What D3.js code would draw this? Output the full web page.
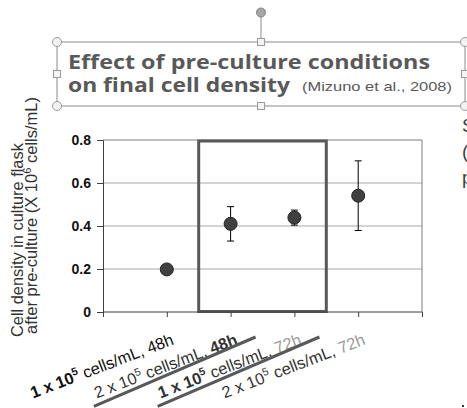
<!DOCTYPE html>
<html>
<head>
<meta charset="utf-8">
<script src="https://cdn.jsdelivr.net/npm/d3@7/dist/d3.min.js"></script>
<style>
  html, body { margin: 0; padding: 0; background: #fff; }
  svg { display: block; }
</style>
</head>
<body>
<svg id="chart" width="467" height="408"></svg>
<script>
// ---- data ----
const positions = [1, 2, 3, 4];
const densities = ["1 x 10", "2 x 10", "1 x 10", "2 x 10"];
const exponents = ["5", "5", "5", "5"];
const hours = ["48h", "48h", "72h", "72h"];
const values = [0.198, 0.41, 0.439, 0.541];
const errors = [0.012, 0.08, 0.035, 0.162];
const yTicks = [0, 0.2, 0.4, 0.6, 0.8];
const titleLine1 = "Effect of pre-culture conditions";
const titleLine2 = "on final cell density";
const citation = "(Mizuno et al., 2008)";
const yLabel1 = "Cell density in culture flask";
const yLabel2a = "after pre-culture (X 10";
const yLabel2sup = "6";
const yLabel2b = " cells/mL)";
const sideText = ["S", "(", "p"];
const underlined = [2, 3];
const highlightRange = [1.5, 3.5];

// ---- layout ----
const svg = d3.select("#chart");
const L = 103, R = 422, T = 140, B = 312;
const x = d3.scaleLinear().domain([0, 5]).range([L, R]);
const y = d3.scaleLinear().domain([0, 0.8]).range([B, T]);

// fit a text element (with tspans) to a target length by scaling its font sizes
function fitText(textSel, target) {
  const len = textSel.node().getComputedTextLength();
  const k = target / len;
  textSel.attr("font-size", +textSel.attr("font-size") * k);
  textSel.selectAll("tspan").each(function () {
    const s = d3.select(this);
    if (s.attr("font-size")) s.attr("font-size", +s.attr("font-size") * k);
    if (s.attr("dy")) s.attr("dy", +s.attr("dy") * k);
  });
}

// grid lines
svg.append("g").selectAll("line").data(yTicks.filter(d => d > 0 && d < 0.8)).join("line")
  .attr("x1", L).attr("x2", R).attr("y1", d => y(d)).attr("y2", d => y(d))
  .attr("stroke", "#a6a6a6").attr("stroke-width", 1);

// plot border top/right
svg.append("path")
  .attr("d", `M${L},${T}H${R}V${B}`)
  .attr("fill", "none").attr("stroke", "#7f7f7f").attr("stroke-width", 1);

// highlight rectangle
svg.append("rect")
  .attr("x", x(highlightRange[0])).attr("y", y(0.8) + 1)
  .attr("width", x(highlightRange[1]) - x(highlightRange[0]))
  .attr("height", y(0) - y(0.8) - 1.5)
  .attr("fill", "none").attr("stroke", "#595959").attr("stroke-width", 3);

// y axis
const yAxis = svg.append("g").attr("transform", `translate(${L},0)`)
  .call(d3.axisLeft(y).tickValues(yTicks).tickSize(6).tickPadding(6)
    .tickFormat(d => d === 0 ? "0" : d.toFixed(1)));
yAxis.select(".domain").attr("stroke", "#404040");
yAxis.selectAll(".tick line").attr("stroke", "#404040");
yAxis.selectAll("text").attr("font-family", "Liberation Sans, Arial, sans-serif")
  .attr("font-size", 14).attr("font-weight", "bold").attr("fill", "#111");

// x axis
const xAxis = svg.append("g").attr("transform", `translate(0,${B})`)
  .call(d3.axisBottom(x).tickValues([0, 1, 2, 3, 4, 5]).tickSize(5).tickFormat(""));
xAxis.select(".domain").attr("stroke", "#404040").attr("d", `M${L},0H${R}`);
xAxis.selectAll(".tick line").attr("stroke", "#404040");

// error bars
const eb = svg.append("g").attr("stroke", "#000").attr("stroke-width", 1);
positions.forEach((p, i) => {
  const cx = x(p);
  const y1 = y(values[i] + errors[i]), y2 = y(values[i] - errors[i]);
  eb.append("line").attr("x1", cx).attr("x2", cx).attr("y1", y1).attr("y2", y2);
  eb.append("line").attr("x1", cx - 3.5).attr("x2", cx + 3.5).attr("y1", y1).attr("y2", y1);
  eb.append("line").attr("x1", cx - 3.5).attr("x2", cx + 3.5).attr("y1", y2).attr("y2", y2);
});

// markers
svg.append("g").selectAll("circle").data(positions).join("circle")
  .attr("cx", d => x(d)).attr("cy", (d, i) => y(values[i])).attr("r", 6.5)
  .attr("fill", "#404040").attr("stroke", "#222").attr("stroke-width", 1);

// x labels
const labelFont = "Liberation Sans, Arial, sans-serif";
positions.forEach((p, i) => {
  const t = svg.append("text")
    .attr("transform", `translate(${x(p) + 8},344) rotate(-21)`)
    .attr("text-anchor", "end")
    .attr("font-family", labelFont).attr("font-size", 15)
    .attr("fill", i === 0 ? "#111" : "#333");
  const leadBold = i % 2 === 0;
  t.append("tspan").text(densities[i]).attr("font-weight", leadBold ? "bold" : "normal");
  t.append("tspan").text(exponents[i]).attr("font-size", 10).attr("dy", -6)
    .attr("font-weight", leadBold ? "bold" : "normal");
  t.append("tspan").text(" cells/mL, ").attr("dy", 6);
  t.append("tspan").text(hours[i])
    .attr("fill", hours[i] === "72h" ? "#999" : (i === 0 ? "#111" : "#333"))
    .attr("font-weight", i === 1 ? "bold" : "normal");
  fitText(t, 152);
});

// underlines for labels in highlight
underlined.forEach(p => {
  const ex = x(p) + 25, ey = 337, len = 176, a = 23.2 * Math.PI / 180;
  svg.append("line")
    .attr("x1", ex - len * Math.cos(a)).attr("y1", ey + len * Math.sin(a))
    .attr("x2", ex).attr("y2", ey)
    .attr("stroke", "#595959").attr("stroke-width", 3);
});

// y label
const yl = svg.append("g").attr("font-family", labelFont).attr("fill", "#333");
const yl1 = yl.append("text").attr("transform", "translate(23,337) rotate(-90)")
  .attr("font-size", 14).text(yLabel1);
fitText(yl1, 194);
const yl2 = yl.append("text").attr("transform", "translate(37,334) rotate(-90)")
  .attr("font-size", 14);
yl2.append("tspan").text(yLabel2a);
yl2.append("tspan").text(yLabel2sup).attr("font-size", 9.5).attr("dy", -5);
yl2.append("tspan").text(yLabel2b).attr("dy", 5);
fitText(yl2, 237);

// side text (cut off at the right edge, as in the source slide)
svg.append("g").selectAll("text").data(sideText).join("text")
  .attr("x", 462).attr("y", (d, i) => 132 + i * 26)
  .attr("font-family", labelFont).attr("font-size", 19).attr("fill", "#404040")
  .text(d => d);
svg.append("rect").attr("x", 462).attr("y", 405).attr("width", 2).attr("height", 2).attr("fill", "#333");

// title box with selection handles
const bx1 = 57, bx2 = 465, by1 = 42, by2 = 106, bmx = (bx1 + bx2) / 2, bmy = (by1 + by2) / 2;
svg.append("line").attr("x1", bmx).attr("x2", bmx).attr("y1", 17).attr("y2", by1)
  .attr("stroke", "#8c8c8c");
svg.append("rect").attr("x", bx1).attr("y", by1).attr("width", bx2 - bx1).attr("height", by2 - by1)
  .attr("fill", "none").attr("stroke", "#8c8c8c").attr("stroke-width", 1);

const title = svg.append("g").attr("fill", "#595959");
title.append("text").attr("x", 68).attr("y", 68.5)
  .attr("font-family", "Open Sans, Noto Sans, sans-serif").attr("font-weight", "bold")
  .attr("font-size", 20).attr("textLength", 362).attr("lengthAdjust", "spacingAndGlyphs")
  .text(titleLine1);
title.append("text").attr("x", 68).attr("y", 91.5)
  .attr("font-family", "Open Sans, Noto Sans, sans-serif").attr("font-weight", "bold")
  .attr("font-size", 20).attr("textLength", 222).attr("lengthAdjust", "spacingAndGlyphs")
  .text(titleLine2);
title.append("text").attr("x", 302).attr("y", 91)
  .attr("font-family", labelFont).attr("font-size", 13.5)
  .attr("textLength", 150).attr("lengthAdjust", "spacingAndGlyphs")
  .text(citation);

// handles
const corners = [[bx1, by1], [bx2, by1], [bx1, by2], [bx2, by2]];
svg.append("g").selectAll("circle").data(corners).join("circle")
  .attr("cx", d => d[0]).attr("cy", d => d[1]).attr("r", 4.5)
  .attr("fill", "#f2f2f2").attr("stroke", "#9a9a9a");
const mids = [[bmx, by1], [bmx, by2], [bx1, bmy], [bx2, bmy]];
svg.append("g").selectAll("rect").data(mids).join("rect")
  .attr("x", d => d[0] - 3.5).attr("y", d => d[1] - 3.5).attr("width", 7).attr("height", 7)
  .attr("fill", "#f4f4f4").attr("stroke", "#9a9a9a");
svg.append("circle").attr("cx", bmx).attr("cy", 12.5).attr("r", 4.5)
  .attr("fill", "#a6a6a6").attr("stroke", "#808080");
</script>
</body>
</html>
